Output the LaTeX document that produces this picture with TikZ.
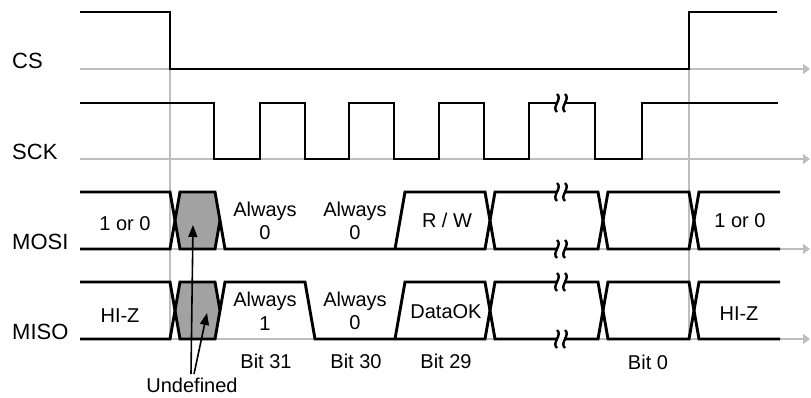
\documentclass[tikz,border=0pt]{standalone}
\usepackage{fontspec}
\setmainfont{Liberation Sans}
\usetikzlibrary{arrows.meta}
\definecolor{axisgray}{RGB}{190,190,190}
\definecolor{undefgray}{RGB}{162,162,162}
\begin{document}
\begin{tikzpicture}[x=1pt,y=-1pt,
  sig/.style={line width=2.9pt, line join=miter, black},
  axis/.style={line width=1.5pt, draw=axisgray},
  axarrow/.style={axis, -{Triangle[length=7pt,width=10pt,fill=axisgray]}},
  lbl/.style={font=\fontsize{22}{26}\selectfont, anchor=base west, inner sep=0pt},
  txt/.style={font=\fontsize{20}{23}\selectfont, anchor=base, inner sep=0pt},
  brkline/.style={line width=2.4pt, black},
  pointer/.style={line width=1.6pt, -{Triangle[length=12pt,width=9pt]}},
  brk/.pic={
    \fill[white] (-4,-9) .. controls (2,-4) and (-10,4) .. (-4,9)
       -- (4,9) .. controls (-2,4) and (10,-4) .. (4,-9) -- cycle;
    \draw[brkline] (-4,-9) .. controls (2,-4) and (-10,4) .. (-4,9);
    \draw[brkline] (4,-9) .. controls (10,-4) and (-2,4) .. (4,9);
  }
]
\useasboundingbox (0,0) rectangle (811,398);

% axes
\coordinate (a1s) at (80,69);  \coordinate (a1e) at (810,69);
\coordinate (a2s) at (80,159); \coordinate (a2e) at (810,159);
\coordinate (a3s) at (80,249); \coordinate (a3e) at (810,249);
\coordinate (a4s) at (80,339); \coordinate (a4e) at (810,339);
\draw[axarrow] (a1s) -- (a1e);
\draw[axarrow] (a2s) -- (a2e);
\draw[axarrow] (a3s) -- (a3e);
\draw[axarrow] (a4s) -- (a4e);
\coordinate (v1s) at (170,69); \coordinate (v1e) at (170,339);
\coordinate (v2s) at (689,69); \coordinate (v2e) at (689,339);
\draw[axis] (v1s) -- (v1e);
\draw[axis] (v2s) -- (v2e);

% undefined regions
\fill[undefgray] (175,220.5) -- (180,192) -- (215,192) -- (220,220.5) -- (215,249) -- (180,249) -- cycle;
\fill[undefgray] (175,310.5) -- (180,282) -- (215,282) -- (220,310.5) -- (215,339) -- (180,339) -- cycle;

% CS
\draw[sig] (80,12) -- (170,12) -- (170,69) -- (689,69) -- (689,12) -- (777,12);

% SCK
\draw[sig] (80,103) -- (214,103) -- (214,159) -- (260,159) -- (260,103) -- (305,103) -- (305,159)
  -- (349,159) -- (349,103) -- (394,103) -- (394,159) -- (439,159) -- (439,103) -- (484,103)
  -- (484,159) -- (529,159) -- (529,103) -- (557,103);
\draw[sig] (565,103) -- (595,103) -- (595,159) -- (642,159) -- (642,103) -- (778,103);

% MOSI
\draw[sig] (80,192) -- (170,192) -- (180,249) -- (215,249) -- (220,220.5);
\draw[sig] (80,249) -- (170,249) -- (180,192) -- (215,192) -- (225,249) -- (485,249) -- (495,192) -- (557,192);
\draw[sig] (395,249) -- (405,192) -- (485,192) -- (495,249) -- (557,249);
\draw[sig] (565,192) -- (598,192) -- (608,249) -- (689,249) -- (699,192) -- (780,192);
\draw[sig] (565,249) -- (598,249) -- (608,192) -- (689,192) -- (699,249) -- (780,249);

% MISO
\draw[sig] (80,282) -- (170,282) -- (180,339) -- (215,339) -- (225,282) -- (305,282) -- (315,339)
  -- (485,339) -- (495,282) -- (557,282);
\draw[sig] (80,339) -- (170,339) -- (180,282) -- (215,282) -- (220,310.5);
\draw[sig] (395,339) -- (405,282) -- (485,282) -- (495,339) -- (557,339);
\draw[sig] (565,282) -- (598,282) -- (608,339) -- (689,339) -- (699,282) -- (780,282);
\draw[sig] (565,339) -- (598,339) -- (608,282) -- (689,282) -- (699,339) -- (780,339);

% breaks
\pic at (561,103) {brk};
\pic at (561,192) {brk};
\pic at (561,249) {brk};
\pic at (561,282) {brk};
\pic at (561,339) {brk};

% labels
\node[lbl] (lcs) at (12,69) {CS};
\node[lbl] (lsck) at (12,160) {SCK};
\node[lbl] (lmosi) at (12,249) {MOSI};
\node[lbl] (lmiso) at (12,339) {MISO};

% texts
\node[txt] (mo1) at (125,230) {1 or 0};
\node[txt] (mo2a) at (265,217) {Always};
\node[txt] (mo2b) at (265,240) {0};
\node[txt] (mo3a) at (355,217) {Always};
\node[txt] (mo3b) at (355,240) {0};
\node[txt] (mo4) at (447,227) {R / W};
\node[txt] (mo5) at (740,228) {1 or 0};
\node[txt] (mi1) at (120,322) {HI-Z};
\node[txt] (mi2a) at (265,306) {Always};
\node[txt] (mi2b) at (265,330) {1};
\node[txt] (mi3a) at (355,306) {Always};
\node[txt] (mi3b) at (355,329) {0};
\node[txt] (mi4) at (446,318) {DataOK};
\node[txt] (mi5) at (739,320) {HI-Z};
\node[txt] (b31) at (266,368) {Bit 31};
\node[txt] (b30) at (356,368) {Bit 30};
\node[txt] (b29) at (446,368) {Bit 29};
\node[txt] (b0) at (648,369) {Bit 0};
\node[txt] (undef) at (192,392) {Undefined};

% pointers
\coordinate (p1s) at (191,374); \coordinate (p1e) at (193,225);
\coordinate (p2s) at (194,374); \coordinate (p2e) at (207,313);
\draw[pointer] (p1s) -- (p1e);
\draw[pointer] (p2s) -- (p2e);
\end{tikzpicture}
\end{document}
